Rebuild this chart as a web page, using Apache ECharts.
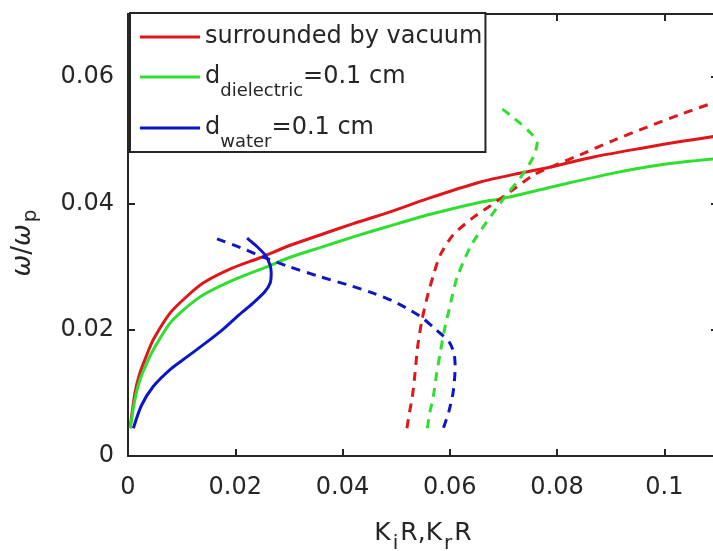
<!DOCTYPE html>
<html>
<head>
<meta charset="utf-8">
<script src="https://cdn.jsdelivr.net/npm/echarts@6/dist/echarts.min.js"></script>
<style>
html,body{margin:0;padding:0;background:#fff;}
#chart{width:713px;height:551px;}
</style>
</head>
<body>
<div id="chart"></div>
<script>
// ---- data ----
const legendNames = ['surrounded by vacuum', 'd_dielectric=0.1 cm', 'd_water=0.1 cm'];
const xTicks = [0, 0.02, 0.04, 0.06, 0.08, 0.1];
const yTicks = [0, 0.02, 0.04, 0.06];

// solid curves (K_i R)
const redSolidX = [0.0004, 0.0013, 0.0022, 0.0035, 0.0047, 0.0078, 0.0110, 0.0140, 0.0190, 0.0246, 0.0300, 0.0358, 0.0420, 0.0483, 0.0560, 0.0657, 0.0720, 0.0780, 0.0870, 0.0968, 0.1030, 0.1100];
const redSolidY = [0.0044, 0.0100, 0.0131, 0.0160, 0.0184, 0.0226, 0.0253, 0.0274, 0.0296, 0.0314, 0.0333, 0.0350, 0.0368, 0.0385, 0.0408, 0.0434, 0.0446, 0.0456, 0.0474, 0.0489, 0.0498, 0.0507];

const greenSolidX = [0.0004, 0.0013, 0.0022, 0.0035, 0.0047, 0.0078, 0.0110, 0.0140, 0.0200, 0.0260, 0.0300, 0.0358, 0.0420, 0.0483, 0.0560, 0.0657, 0.0700, 0.0800, 0.0905, 0.1000, 0.1100];
const greenSolidY = [0.0044, 0.0090, 0.0120, 0.0147, 0.0168, 0.0210, 0.0236, 0.0255, 0.0280, 0.0300, 0.0314, 0.0330, 0.0347, 0.0363, 0.0382, 0.0402, 0.0408, 0.0428, 0.0448, 0.0462, 0.0471];

const blueSolidX = [0.0010, 0.0025, 0.0047, 0.0080, 0.0110, 0.0140, 0.0172, 0.0205, 0.0233, 0.0255, 0.0265, 0.0267, 0.0265, 0.0256, 0.0240, 0.0222];
const blueSolidY = [0.0044, 0.0080, 0.0110, 0.0138, 0.0157, 0.0176, 0.0197, 0.0222, 0.0242, 0.0260, 0.0274, 0.0290, 0.0302, 0.0318, 0.0332, 0.0345];

// dashed curves (K_r R)
const redDashX = [0.0520, 0.0525, 0.0530, 0.0535, 0.0540, 0.0548, 0.0558, 0.0570, 0.0582, 0.0606, 0.0644, 0.0675, 0.0715, 0.0756, 0.0800, 0.0843, 0.0900, 0.0968, 0.1030, 0.1100];
const redDashY = [0.0044, 0.0070, 0.0093, 0.0130, 0.0173, 0.0215, 0.0252, 0.0288, 0.0318, 0.0350, 0.0378, 0.0396, 0.0420, 0.0445, 0.0462, 0.0477, 0.0498, 0.0521, 0.0541, 0.0562];

const greenDashX = [0.0558, 0.0563, 0.0569, 0.0575, 0.0582, 0.0590, 0.0597, 0.0605, 0.0614, 0.0638, 0.0660, 0.0681, 0.0705, 0.0731, 0.0756, 0.0763, 0.0750, 0.0731, 0.0715, 0.0700, 0.0685];
const greenDashY = [0.0044, 0.0070, 0.0093, 0.0128, 0.0163, 0.0200, 0.0226, 0.0255, 0.0284, 0.0331, 0.0360, 0.0385, 0.0413, 0.0440, 0.0474, 0.0497, 0.0512, 0.0527, 0.0538, 0.0548, 0.0551];

const blueDashX = [0.0166, 0.0210, 0.0252, 0.0300, 0.0358, 0.0410, 0.0457, 0.0495, 0.0526, 0.0550, 0.0569, 0.0588, 0.0600, 0.0608, 0.0610, 0.0606, 0.0598, 0.0588];
const blueDashY = [0.0344, 0.0330, 0.0315, 0.0300, 0.0284, 0.0271, 0.0258, 0.0245, 0.0231, 0.0218, 0.0204, 0.0190, 0.0179, 0.0162, 0.0141, 0.0100, 0.0070, 0.0044];

// ---- styling ----
const RED = '#e0161a', GREEN = '#2fdf2f', BLUE = '#0c16c4';
const INK = '#262626';
const FONT = 'DejaVu Sans';

function pairs(xs, ys) { return xs.map((x, i) => [x, ys[i]]); }

function lineSeries(name, xs, ys, color, dashed) {
  return {
    name: name, type: 'line', data: pairs(xs, ys),
    symbol: 'none', showSymbol: false, smooth: 0.25, silent: true,
    lineStyle: { color: color, width: 3, type: dashed ? [9, 7] : 'solid' },
    itemStyle: { color: color },
    z: 3
  };
}

const chart = echarts.init(document.getElementById('chart'), null, { renderer: 'canvas' });

const axisLineStyle = { color: INK, width: 2 };

const option = {
  animation: false,
  backgroundColor: '#fff',
  textStyle: { fontFamily: FONT },
  grid: { left: 128, top: 14, right: -5, bottom: 95, containLabel: false, outerBoundsMode: 'none' },
  legend: {
    orient: 'vertical', left: 130, top: 13,
    data: legendNames,
    icon: 'rect',
    padding: [12, 3, 1, 10],
    itemWidth: 60, itemHeight: 3, itemGap: 5,
    borderColor: INK, borderWidth: 2, borderRadius: 0,
    backgroundColor: '#fff',
    formatter: function (name) {
      if (name.indexOf('d_') === 0) {
        const m = name.match(/^d_(\w+)(=.*)$/);
        return '{n|d}{s|' + m[1] + '}{n|' + m[2] + '}';
      }
      return '{n|' + name + '}';
    },
    textStyle: {
      color: INK, fontFamily: FONT, fontSize: 24,
      rich: {
        n: { fontSize: 24, fontFamily: FONT, color: INK, lineHeight: 24 },
        s: { fontSize: 18, fontFamily: FONT, color: INK, lineHeight: 18, padding: [28, 0, 0, 0] }
      }
    }
  },
  xAxis: [{
    type: 'value', min: 0, max: 0.11, interval: 0.02, position: 'bottom',
    name: '{n|K}{s|i}{n|R,K}{s|r}{n|R}', nameLocation: 'middle', nameGap: 64,
    nameTextStyle: {
      color: INK, fontFamily: FONT, fontSize: 25,
      rich: {
        n: { fontSize: 25, fontFamily: FONT, color: INK, lineHeight: 26 },
        s: { fontSize: 20, fontFamily: FONT, color: INK, lineHeight: 20, padding: [22, 2, 0, 2] }
      }
    },
    axisLine: { show: true, lineStyle: axisLineStyle, onZero: false },
    axisTick: { show: true, inside: true, length: 7, lineStyle: axisLineStyle },
    axisLabel: {
      color: INK, fontFamily: FONT, fontSize: 24, margin: 20,
      showMaxLabel: false,
      formatter: v => String(+v.toFixed(4))
    },
    splitLine: { show: false }
  }, {
    type: 'value', min: 0, max: 0.11, interval: 0.02, position: 'top',
    axisLine: { show: true, lineStyle: axisLineStyle, onZero: false },
    axisTick: { show: true, inside: true, length: 7, lineStyle: axisLineStyle },
    axisLabel: { show: false }, splitLine: { show: false }
  }],
  yAxis: [{
    type: 'value', min: 0, max: 0.07, interval: 0.02, position: 'left',
    name: '{w|ω}{n|/}{w|ω}{s|p}', nameLocation: 'middle', nameGap: 92, nameRotate: 90,
    nameTextStyle: {
      color: INK, fontFamily: FONT, fontSize: 26, padding: [0, 16, 0, 0],
      rich: {
        w: { fontSize: 26, fontFamily: FONT, fontStyle: 'italic', color: INK, lineHeight: 26 },
        n: { fontSize: 26, fontFamily: FONT, color: INK, lineHeight: 26 },
        s: { fontSize: 20, fontFamily: FONT, color: INK, lineHeight: 20, padding: [16, 0, 0, 2] }
      }
    },
    axisLine: { show: true, lineStyle: axisLineStyle, onZero: false },
    axisTick: { show: true, inside: true, length: 7, lineStyle: axisLineStyle },
    axisLabel: {
      color: INK, fontFamily: FONT, fontSize: 24, margin: 14,
      showMaxLabel: false,
      formatter: v => String(+v.toFixed(4))
    },
    splitLine: { show: false }
  }, {
    type: 'value', min: 0, max: 0.07, interval: 0.02, position: 'right',
    axisLine: { show: true, lineStyle: axisLineStyle, onZero: false },
    axisTick: { show: true, inside: true, length: 7, lineStyle: axisLineStyle },
    axisLabel: { show: false }, splitLine: { show: false }
  }],
  series: [
    lineSeries(legendNames[0], redSolidX, redSolidY, RED, false),
    lineSeries(legendNames[1], greenSolidX, greenSolidY, GREEN, false),
    lineSeries(legendNames[2], blueSolidX, blueSolidY, BLUE, false),
    lineSeries('vacuum Kr', redDashX, redDashY, RED, true),
    lineSeries('dielectric Kr', greenDashX, greenDashY, GREEN, true),
    lineSeries('water Kr', blueDashX, blueDashY, BLUE, true)
  ]
};
chart.setOption(option);
</script>
</body>
</html>
